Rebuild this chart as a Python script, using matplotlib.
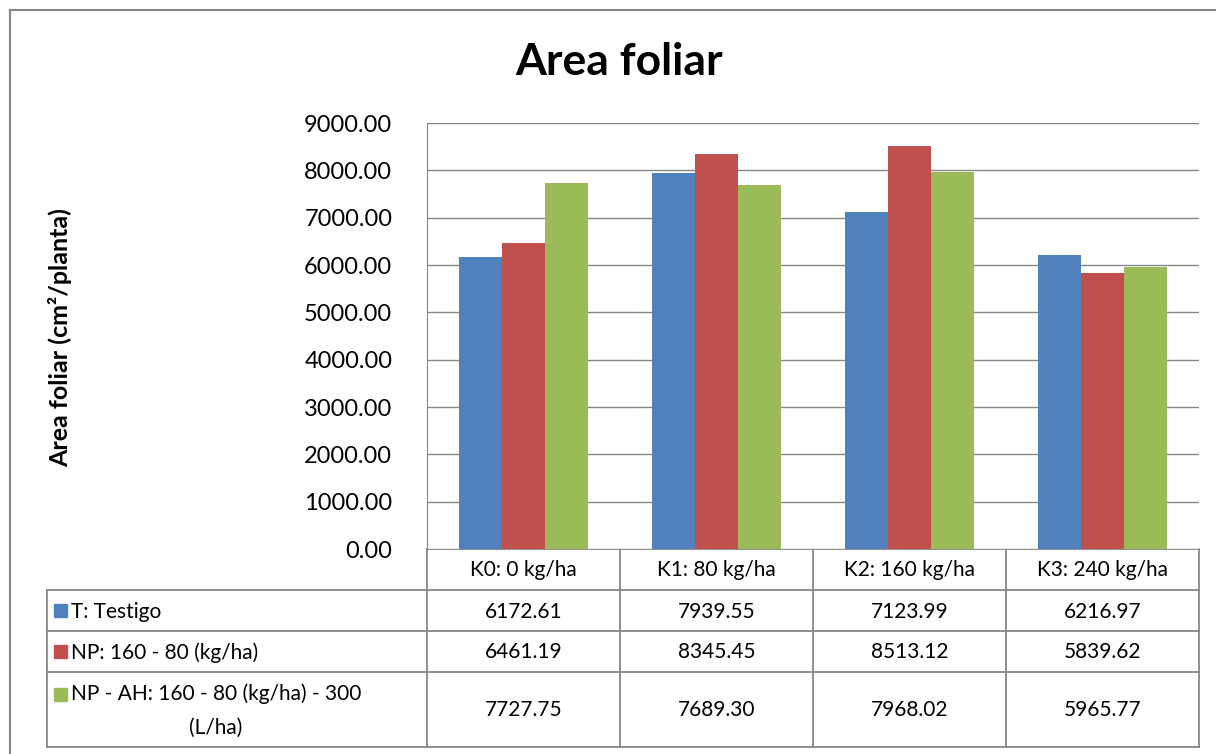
import matplotlib
matplotlib.use("Agg")
import matplotlib.pyplot as plt
from matplotlib.lines import Line2D
from matplotlib.patches import Rectangle

title = "Area foliar"
ylabel = "Area foliar (cm²/planta)"
categories = ["K0: 0 kg/ha", "K1: 80 kg/ha", "K2: 160 kg/ha", "K3: 240 kg/ha"]
series_names = ["T: Testigo", "NP: 160 - 80 (kg/ha)", "NP - AH: 160 - 80 (kg/ha) - 300\n(L/ha)"]
testigo = [6172.61, 7939.55, 7123.99, 6216.97]
np_vals = [6461.19, 8345.45, 8513.12, 5839.62]
np_ah = [7727.75, 7689.30, 7968.02, 5965.77]
yticks = [0, 1000, 2000, 3000, 4000, 5000, 6000, 7000, 8000, 9000]

colors = ["#4F81BD", "#C0504D", "#9BBB59"]
series = [testigo, np_vals, np_ah]
grid_c = "#868686"
FONT = "Lato"
TFS = 15

W, H = 1216, 754
fig = plt.figure(figsize=(W / 100, H / 100), dpi=100)
fig.patch.set_facecolor("white")

# plot area in pixel coords
L, R, T, B = 427, 1199, 123, 549
ax = fig.add_axes([L / W, 1 - B / H, (R - L) / W, (B - T) / H])
n = len(categories)
bw = 0.223
for i, (vals, c) in enumerate(zip(series, colors)):
    xs = [k + (i - 1) * bw for k in range(n)]
    ax.bar(xs, vals, width=bw, color=c, zorder=3)
ax.set_xlim(-0.5, n - 0.5)
ax.set_ylim(0, 9000)
ax.set_yticks(yticks)
ax.set_yticklabels([f"{v:.2f}" for v in yticks], fontsize=17, family=FONT)
ax.tick_params(axis="y", length=0, pad=25)
ax.set_xticks([])
ax.yaxis.grid(True, color=grid_c, linewidth=1, zorder=0)
for s in ["top", "right", "bottom"]:
    ax.spines[s].set_visible(False)
ax.spines["left"].set_color(grid_c)

# overlay for table, title, border
ov = fig.add_axes([0, 0, 1, 1], zorder=-1)
ov.set_xlim(0, W)
ov.set_ylim(H, 0)
ov.axis("off")

# outer chart border
ov.add_line(Line2D([10, 10], [10, H + 5], color=grid_c, lw=1.5))
ov.add_line(Line2D([10, W + 5], [10, 10], color=grid_c, lw=1.5))

ov.text(619, 62, title, ha="center", va="center", fontsize=32, fontweight="bold", family=FONT)
ov.text(60, 338, ylabel, ha="center", va="center", rotation=90, fontsize=18,
        fontweight="bold", family=FONT)

# table
colw = (R - L) / n
row_edges = [549, 590, 631, 672, 747]
TL = 47
tl = dict(color=grid_c, lw=1.3)
ov.add_line(Line2D([L, R], [549, 549], **tl))
for k in range(n + 1):
    ov.add_line(Line2D([L + k * colw] * 2, [549, 747], **tl))
for y in row_edges[1:]:
    ov.add_line(Line2D([TL, R], [y, y], **tl))
ov.add_line(Line2D([TL, TL], [590, 747], **tl))

for k, cat in enumerate(categories):
    ov.text(L + (k + 0.5) * colw, 570, cat, ha="center", va="center", fontsize=TFS, family=FONT)

for r, (name, vals, c) in enumerate(zip(series_names, series, colors)):
    yc = (row_edges[r + 1] + row_edges[r + 2]) / 2
    ysq = yc if r < 2 else 694
    ov.add_patch(Rectangle((54, ysq - 6.5), 13, 13, color=c))
    ov.text(71, yc + 1, name, ha="left", va="center", fontsize=TFS, family=FONT,
            multialignment="center", linespacing=1.9)
    for k, v in enumerate(vals):
        ov.text(L + (k + 0.5) * colw, yc + 1, f"{v:.2f}", ha="center", va="center",
                fontsize=TFS, family=FONT)

fig.savefig("out.png", dpi=100)
